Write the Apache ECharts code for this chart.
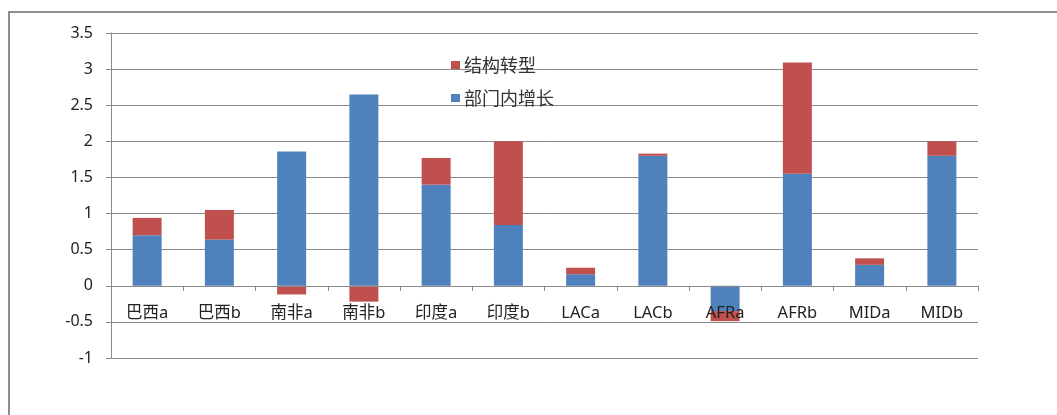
<!DOCTYPE html>
<html>
<head>
<meta charset="utf-8">
<script src="https://cdn.jsdelivr.net/npm/echarts@6/dist/echarts.min.js"></script>
<style>
  html, body { margin: 0; padding: 0; background: #fff; }
  #frame { position: absolute; left: 8px; top: 11px; width: 1100px; height: 500px;
           border-left: 2px solid #8e8e8e; border-top: 2px solid #8e8e8e; box-sizing: border-box; }
  #chart { position: absolute; left: 0; top: 0; width: 1057px; height: 415px; }
</style>
</head>
<body>
<div id="frame"></div>
<div id="chart"></div>
<script>
// Regions (a / b periods)
const categories = ['巴西a', '巴西b', '南非a', '南非b', '印度a', '印度b', 'LACa', 'LACb', 'AFRa', 'AFRb', 'MIDa', 'MIDb'];
// Within-sector growth contribution
const withinSector = [0.70, 0.64, 1.86, 2.65, 1.40, 0.84, 0.16, 1.80, -0.35, 1.55, 0.29, 1.80];
// Structural transformation contribution
const structural = [0.24, 0.41, -0.12, -0.22, 0.37, 1.16, 0.09, 0.03, -0.14, 1.54, 0.09, 0.20];
const seriesNames = ['部门内增长', '结构转型'];
const yTicks = { min: -1, max: 3.5, step: 0.5 };

const labelFont = '"Noto Sans", "Noto Sans CJK SC", sans-serif';
const cjk = '"Noto Sans CJK SC", "Noto Sans", sans-serif';
const axisGray = '#8a8a8a';
const chart = echarts.init(document.getElementById('chart'), null, { renderer: 'canvas' });
chart.setOption({
  animation: false,
  backgroundColor: 'transparent',
  grid: { left: 111, right: 79, top: 33, bottom: 57 },
  legend: {
    orient: 'vertical',
    left: 446,
    top: 50,
    itemWidth: 9,
    itemHeight: 8,
    itemGap: 13,
    icon: 'rect',
    data: [seriesNames[1], seriesNames[0]],
    textStyle: { fontFamily: cjk, fontSize: 18, color: '#333', lineHeight: 20, padding: [0, 0, 0, -1] }
  },
  xAxis: {
    type: 'category',
    data: categories,
    z: 5,
    axisLine: { onZero: false, lineStyle: { color: axisGray, width: 1 } },
    axisTick: { show: true, length: 5, lineStyle: { color: axisGray } },
    axisLabel: { margin: 19, fontFamily: labelFont, fontSize: 16.5, color: '#222' },
    splitLine: { show: false }
  },
  yAxis: {
    type: 'value',
    min: yTicks.min,
    max: yTicks.max,
    interval: yTicks.step,
    axisLine: { show: true, lineStyle: { color: axisGray, width: 1 } },
    axisTick: { show: true, length: 5, lineStyle: { color: axisGray } },
    axisLabel: { margin: 18, fontFamily: labelFont, fontSize: 16, color: '#222' },
    splitLine: { show: true, lineStyle: { color: axisGray, width: 1 } }
  },
  series: [
    {
      name: seriesNames[0],
      type: 'bar',
      stack: 'total',
      barWidth: 29,
      itemStyle: { color: '#4F81BD' },
      data: withinSector
    },
    {
      name: seriesNames[1],
      type: 'bar',
      stack: 'total',
      barWidth: 29,
      itemStyle: { color: '#C0504D' },
      data: structural
    }
  ]
});

// Move the category axis (line, ticks, labels) up to the value-axis zero line
const zeroY = chart.convertToPixel({ yAxisIndex: 0 }, 0);
const bottomY = chart.convertToPixel({ yAxisIndex: 0 }, yTicks.min);
chart.setOption({ xAxis: { offset: zeroY - bottomY } });
</script>
</body>
</html>
